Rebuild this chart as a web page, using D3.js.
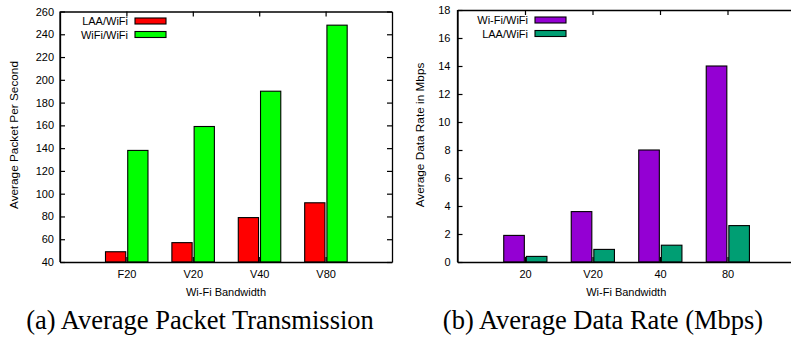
<!DOCTYPE html>
<html><head><meta charset="utf-8">
<script src="https://cdn.jsdelivr.net/npm/d3@7"></script>
<style>
body{margin:0;background:#fff;}
svg{display:block;}
.tick text{font-family:"Liberation Sans",Arial,sans-serif;font-size:11px;fill:#000;}
</style></head><body>
<svg id="c" width="791" height="342"></svg>
<script>
// Chart (a)
const catsA = ["F20","V20","V40","V80"];
const laaA = [49,57,79,92];
const wifiA = [138,159,190,248];
const yTicksA = [40,60,80,100,120,140,160,180,200,220,240,260];
// Chart (b)
const catsB = ["20","V20","40","80"];
const wifiB = [1.9,3.6,8,14];
const laaB = [0.4,0.9,1.2,2.6];
const yTicksB = [0,2,4,6,8,10,12,14,16,18];

const svg = d3.select("#c");
const sans = '"Liberation Sans",Arial,sans-serif';

function panel(o){
  const g = svg.append("g");
  const x = d3.scaleLinear().domain([0,5]).range([o.x0,o.x1]);
  const y = d3.scaleLinear().domain(o.ydom).range([o.y1,o.y0]);
  const pos = o.cats.map((c,i)=>i+1);
  // bars
  const series = [
    {vals:o.s1, col:o.c1, a:-0.315, b:-0.01},
    {vals:o.s2, col:o.c2, a:0.02, b:0.325}
  ];
  series.forEach(s=>{
    g.selectAll(null).data(s.vals).enter().append("rect")
      .attr("x",(d,i)=>x(pos[i]+s.a))
      .attr("width",(d,i)=>x(pos[i]+s.b)-x(pos[i]+s.a))
      .attr("y",d=>y(d))
      .attr("height",d=>y(o.ydom[0])-y(d))
      .attr("fill",s.col).attr("stroke","#000").attr("stroke-width",1.1);
  });
  // axes
  const ax = (a)=>a.tickSizeOuter(0);
  g.append("g").attr("transform",`translate(${o.x0},0)`)
    .call(ax(d3.axisLeft(y).tickValues(o.yt).tickSize(-5).tickPadding(o.yp)));
  g.append("g").attr("transform",`translate(0,${o.y1})`)
    .call(ax(d3.axisBottom(x).tickValues(pos).tickFormat((d,i)=>o.cats[i]).tickSize(-5).tickPadding(8)));
  g.append("g").attr("transform",`translate(0,${o.y0})`)
    .call(ax(d3.axisTop(x).tickValues(pos).tickFormat("").tickSize(-5)));
  if(o.rightAxis){
    g.append("g").attr("transform",`translate(${o.x1},0)`)
      .call(ax(d3.axisRight(y).tickValues(o.yt).tickFormat("").tickSize(-5)));
  }
  g.selectAll(".domain").attr("stroke","#000").attr("stroke-width",1.3);
  g.selectAll(".tick line").attr("stroke","#000").attr("stroke-width",1.2);
  // border lines
  g.append("path").attr("d",`M${o.x0},${o.y0}V${o.y1}`).attr("stroke","#000").attr("stroke-width",1.3);
  // titles
  g.append("text").attr("x",(o.x0+o.x1)/2).attr("y",296).attr("text-anchor","middle")
    .attr("font-family",sans).attr("font-size",11).text("Wi-Fi Bandwidth");
  g.append("text").attr("transform",`translate(${o.ytx},${o.ytc}) rotate(-90)`)
    .attr("text-anchor","middle").attr("font-family",sans).attr("font-size",11.8).text(o.ytitle);
  // legend
  o.leg.forEach((l,i)=>{
    const ly = o.ly + i*13.5;
    g.append("text").attr("x",o.lx).attr("y",ly+4).attr("text-anchor","end")
      .attr("font-family",sans).attr("font-size",11).text(l.name);
    g.append("rect").attr("x",o.lx+7).attr("y",ly-3).attr("width",31).attr("height",6)
      .attr("fill",l.col).attr("stroke","#000").attr("stroke-width",1.1);
  });
  // caption
  g.append("text").attr("x",o.capx).attr("y",329).attr("text-anchor","middle")
    .attr("font-family",'"Liberation Serif","Times New Roman",serif').attr("font-size",o.capfs).text(o.cap);
}

panel({x0:60,x1:392,y0:11.5,y1:262,ydom:[40,260],yt:yTicksA,cats:catsA,s1:laaA,s2:wifiA,
  c1:"#ff0000",c2:"#00ff00",yp:6,rightAxis:true,ytx:17.5,ytc:135,ytitle:"Average Packet Per Second",
  leg:[{name:"LAA/WiFi",col:"#ff0000"},{name:"WiFi/WiFi",col:"#00ff00"}],lx:128,ly:21,
  capx:200,cap:"(a) Average Packet Transmission",capfs:26.5});
panel({x0:457.5,x1:795,y0:10,y1:262,ydom:[0,18],yt:yTicksB,cats:catsB,s1:wifiB,s2:laaB,
  c1:"#9400d3",c2:"#009e73",yp:7,rightAxis:false,ytx:424,ytc:135,ytitle:"Average Data Rate in Mbps",
  leg:[{name:"Wi-Fi/WiFi",col:"#9400d3"},{name:"LAA/WiFi",col:"#009e73"}],lx:528,ly:20,
  capx:603,cap:"(b) Average Data Rate (Mbps)",capfs:26.5});
</script></body></html>
